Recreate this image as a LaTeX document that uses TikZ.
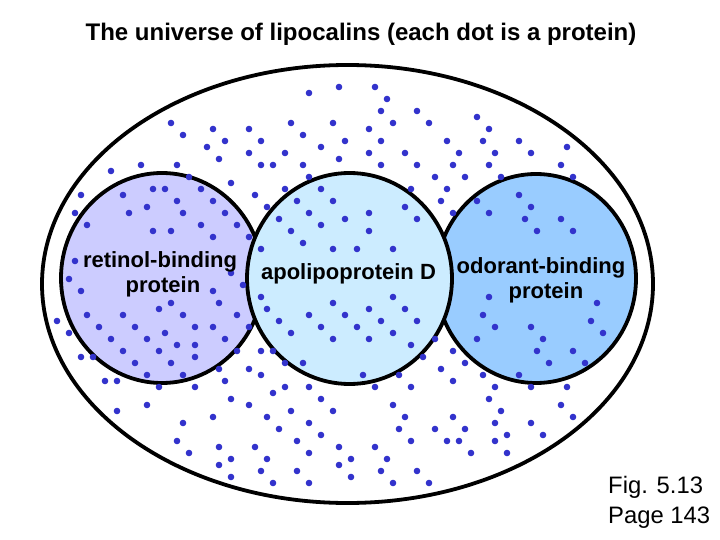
\documentclass[tikz,border=0pt]{standalone}
\usepackage{fontspec}
\setmainfont{Liberation Sans}
\definecolor{dotblue}{RGB}{51,51,204}
\definecolor{rbpfill}{RGB}{204,204,255}
\definecolor{apofill}{RGB}{204,236,255}
\definecolor{obpfill}{RGB}{153,204,255}
\tikzset{
  ring/.style={line width=3.8pt, draw=black},
  titletext/.style={font=\fontsize{24}{28}\selectfont\bfseries, inner sep=0pt, anchor=base},
  labeltext/.style={font=\fontsize{22}{25}\selectfont\bfseries, inner sep=0pt, anchor=base},
  figtext/.style={font=\fontsize{23.8}{30}\selectfont, inner sep=0pt, anchor=base west},
  protdot/.style={fill=dotblue}
}
\begin{document}
\begin{tikzpicture}[x=1pt,y=-1pt]
\useasboundingbox (0,0) rectangle (720,540);
\fill[white] (0,0) rectangle (720,540);
% universe
\draw[ring] (347.5,284) ellipse [x radius=305.5pt, y radius=219pt];
% family circles
\filldraw[ring, fill=rbpfill] (162,278) ellipse [x radius=101pt, y radius=105pt];
\filldraw[ring, fill=obpfill] (536,278.5) ellipse [x radius=100pt, y radius=104.5pt];
\filldraw[ring, fill=apofill] (349.5,278.5) ellipse [x radius=102.5pt, y radius=105.5pt];
% proteins
\foreach \px/\py in {
171/123,183/135,213/129,225/141,207/147,219/159,249/129,249/153,261/141,261/165,
111/171,141/165,177/165,189/177,231/183,255/195,81/195,123/195,153/189,165/189,
201/189,75/213,147/207,177/201,213/201,129/213,183/213,225/213,87/225,201/225,237/225,
309/93,339/87,375/87,387/99,381/111,417/111,291/123,333/123,393/123,429/123,
303/135,369/129,345/141,381/141,447/141,321/147,285/153,369/153,405/153,459/153,
339/159,273/165,303/165,381/165,417/165,453/165,309/177,435/177,465/177,285/189,
321/189,411/189,447/189,297/201,333/201,441/201,267/207,405/207,309/213,369/213,
279/219,345/219,417/219,453/213,321/225,
477/117,489/129,483/141,519/141,567/147,495/153,531/153,489/165,561/165,501/177,
573/177,477/201,519/195,531/207,489/213,525/219,561/219,
153/231,171/231,213/237,249/237,75/261,231/273,69/279,243/285,81/291,213/291,
171/303,219/303,159/309,57/321,87/315,123/315,183/315,237/315,99/327,135/327,
195/327,213/327,249/327,69/333,165/333,111/339,147/339,225/339,177/345,195/345,
123/351,159/351,237/351,81/357,93/357,195/357,135/363,171/363,219/369,249/369,
147/375,183/375,105/381,117/381,159/387,195/387,225/381,231/399,
291/231,369/231,303/243,261/249,333/249,357/249,393/249,261/297,333/303,393/297,
267/309,309/315,345/315,369/309,405/309,279/321,321/327,357/327,381/321,417/321,
291/333,393/333,333/339,369/339,411/345,435/339,261/351,273/351,453/351,423/357,
285/363,303/363,465/363,441/369,261/375,363/375,399/375,453/381,285/387,309/387,
375/387,411/387,273/393,321/399,
537/231,573/231,489/297,597/303,483/315,495/327,531/327,591/321,603/333,477/339,
543/339,537/351,573/351,549/363,585/363,483/375,519/375,495/387,531/387,567/387,489/399,
117/411,147/405,183/423,213/417,249/405,177/441,189/453,219/447,255/447,231/459,
219/465,231/477,261/471,
291/411,333/411,267/417,309/423,279/429,321/435,297/441,339/447,309/453,267/459,
351/459,339/465,297/471,351/477,273/483,309/483,393/405,405/417,399/429,411/441,
375/447,387/459,381/471,393/483,417/471,429/483,453/417,435/429,465/429,447/441,
459/441,471/453,
501/411,561/405,573/417,495/423,531/423,507/435,543/435,495/441,507/453}
  \fill[protdot] (\px,\py) circle [radius=3.3pt];
% texts
\node[titletext] (title) at (361,41) {The universe of lipocalins (each dot is a protein)};
\node[labeltext] (rbp1) at (160,267) {retinol-binding};
\node[labeltext] (rbp2) at (163,292) {protein};
\node[labeltext] (apod) at (348.5,279) {apolipoprotein D};
\node[labeltext] (obp1) at (541,273) {odorant-binding};
\node[labeltext] (obp2) at (546,298) {protein};
\node[figtext] (fig) at (608,493) {Fig. 5.13};
\node[figtext] (page) at (608,523) {Page 143};
\end{tikzpicture}
\end{document}
